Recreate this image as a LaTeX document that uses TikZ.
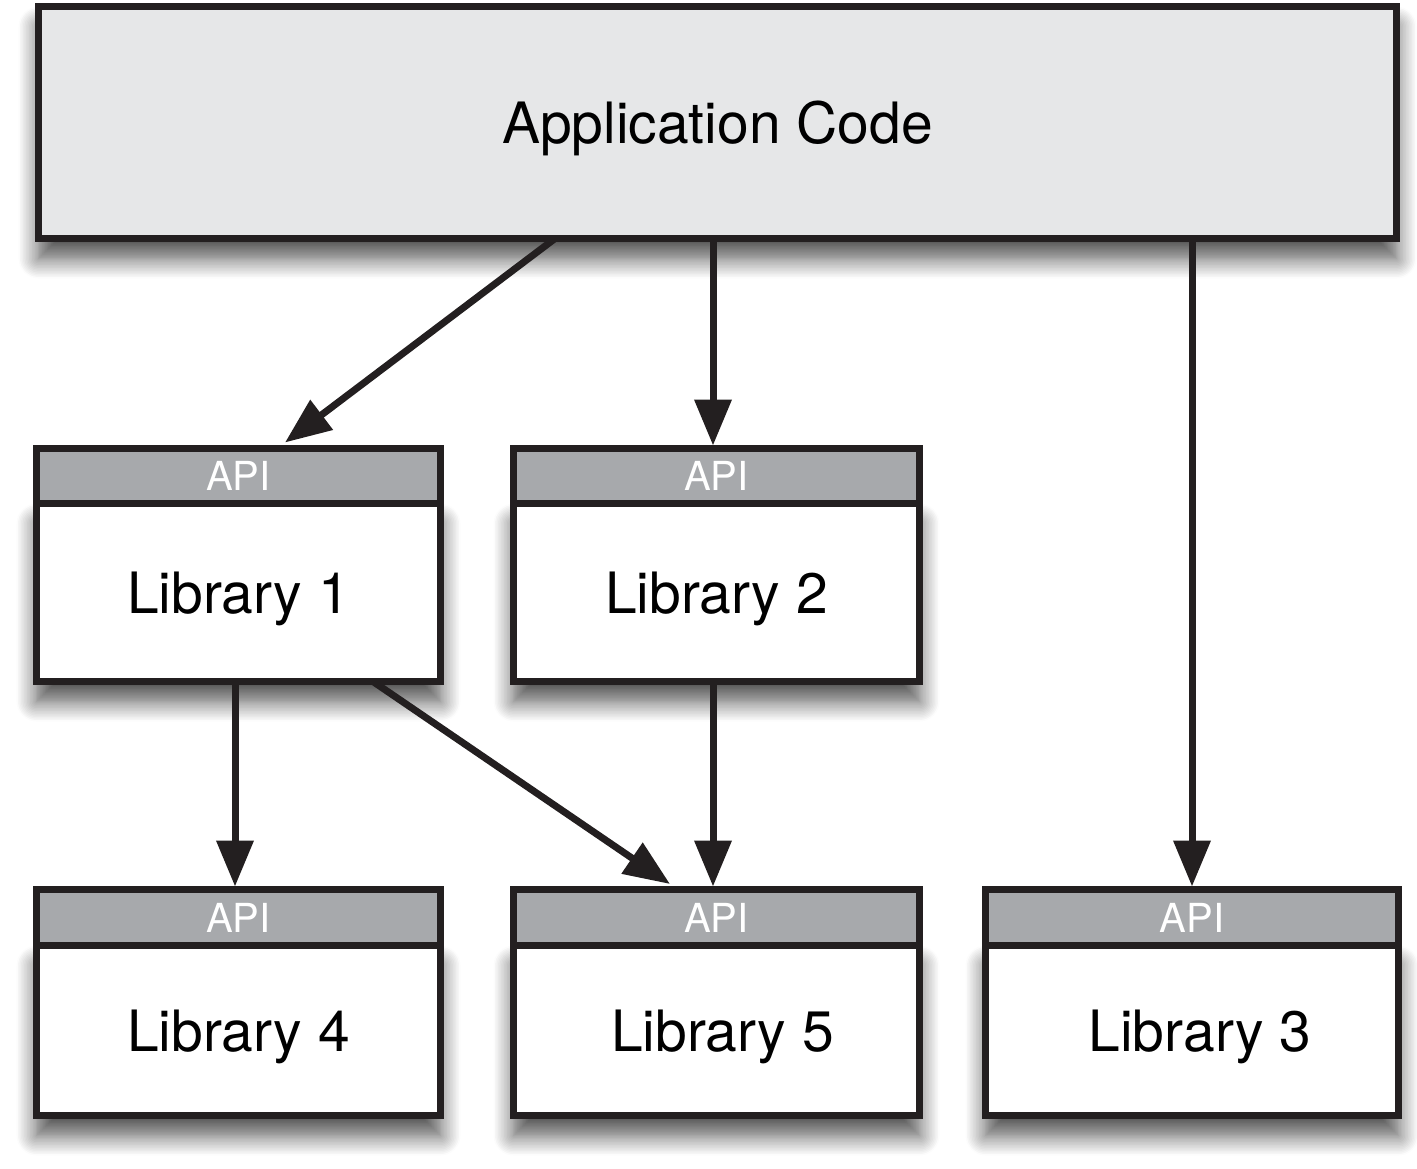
\documentclass[tikz,border=0pt]{standalone}
\usepackage{fontspec}
\setmainfont{TeX Gyre Heros}
\usetikzlibrary{arrows.meta,shadows.blur}

\definecolor{ink}{HTML}{231F20}
\definecolor{appfill}{HTML}{E6E7E8}
\definecolor{apifill}{HTML}{A7A9AC}

\tikzset{
  boxline/.style={draw=ink, line width=3.5pt, rectangle, inner sep=0pt, outer sep=0pt},
  dropshadow/.style={blur shadow={shadow xshift=0pt, shadow yshift=-10pt,
      shadow blur radius=10pt, shadow opacity=70, shadow blur steps=14}},
  appbox/.style={boxline, fill=appfill, minimum width=679pt, minimum height=116pt,
      font=\fontsize{28.5}{31}\selectfont, text depth=0pt, dropshadow},
  libbox/.style={boxline, fill=white, minimum height=89pt, anchor=north,
      font=\fontsize{28.5}{31}\selectfont, text depth=0pt, dropshadow},
  apibar/.style={boxline, fill=apifill, minimum height=27.5pt, anchor=south,
      text=white, font=\fontsize{20}{22}\selectfont},
  dep/.style={draw=ink, line width=3.5pt, -{Triangle[length=23pt,width=18pt]}},
}

\begin{document}
\begin{tikzpicture}[x=0.5pt, y=-0.5pt]
  \useasboundingbox (0,0) rectangle (1417,1168);

  % application layer
  \node[appbox] (app) at (717.5,122.5) {Application Code};

  % first row of libraries
  \node[libbox, minimum width=202pt] (l1) at (238.5,503.5) {Library 1};
  \node[apibar, minimum width=202pt] (l1api) at (l1.north) {API};
  \node[libbox, minimum width=203pt] (l2) at (716.5,503.5) {Library 2};
  \node[apibar, minimum width=203pt] (l2api) at (l2.north) {API};

  % second row of libraries
  \node[libbox, minimum width=202pt, minimum height=85pt] (l4) at (238.5,945.5) {Library 4};
  \node[apibar, minimum width=202pt, minimum height=28pt] (l4api) at (l4.north) {API};
  \node[libbox, minimum width=203pt, minimum height=85pt] (l5) at (716.5,945.5) {\hspace*{6pt}Library 5};
  \node[apibar, minimum width=203pt, minimum height=28pt] (l5api) at (l5.north) {API};
  \node[libbox, minimum width=206.5pt, minimum height=85pt] (l3) at (1192,945.5) {\hspace*{8pt}Library 3};
  \node[apibar, minimum width=206.5pt, minimum height=28pt] (l3api) at (l3.north) {API};

  % dependencies
  \draw[dep] ([xshift=-81.25pt]app.south) -- ([xshift=23.25pt,yshift=3pt]l1api.north);
  \draw[dep] ([xshift=-1.75pt]app.south -| l2api.north) -- ([xshift=-1.75pt,yshift=1.5pt]l2api.north);
  \draw[dep] (app.south -| l3api.north) -- ([yshift=1.5pt]l3api.north);
  \draw[dep] ([xshift=-1.75pt]l1.south) -- ([xshift=-1.75pt,yshift=1.5pt]l4api.north);
  \draw[dep] ([xshift=67.25pt]l1.south) -- ([xshift=-23.25pt,yshift=2.75pt]l5api.north);
  \draw[dep] ([xshift=-1.75pt]l2.south) -- ([xshift=-1.75pt,yshift=1.5pt]l5api.north);
\end{tikzpicture}
\end{document}
